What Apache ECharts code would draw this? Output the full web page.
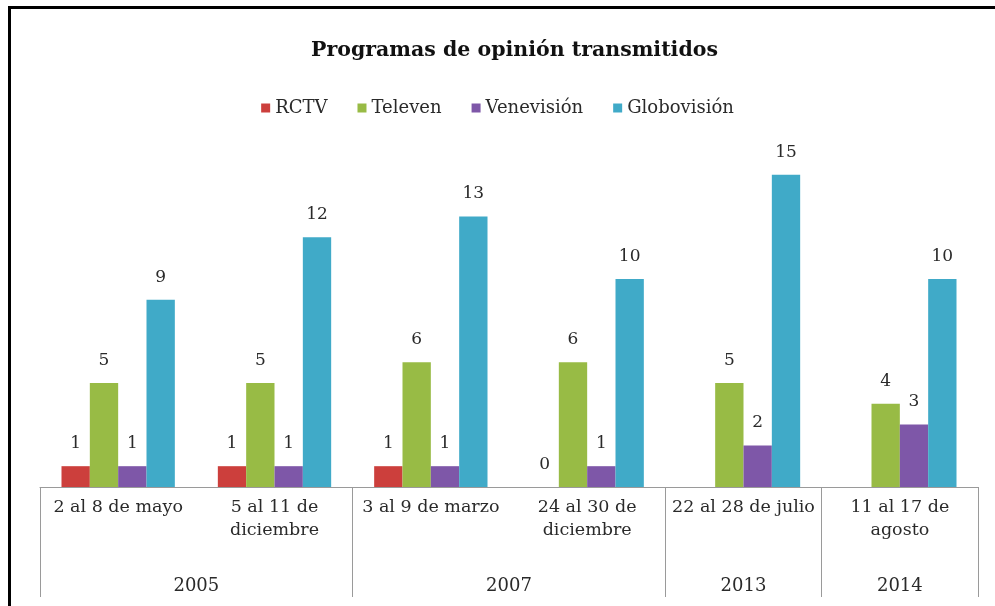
<!DOCTYPE html>
<html>
<head>
<meta charset="utf-8">
<script src="https://cdn.jsdelivr.net/npm/echarts@6/dist/echarts.min.js"></script>
<style>
  html, body { margin: 0; padding: 0; background: #fff; }
  #chart { position: absolute; left: 0; top: 0; width: 995px; height: 606px; }
  #frame {
    position: absolute; left: 8px; top: 6px; right: 0; bottom: 0;
    border-left: 3px solid #000; border-top: 3px solid #000;
    pointer-events: none;
  }
</style>
</head>
<body>
<div id="chart"></div>
<div id="frame"></div>
<script>
// fechas (primer nivel del eje) y años (segundo nivel)
const weeks = ['2 al 8 de mayo', '5 al 11 de\ndiciembre', '3 al 9 de marzo', '24 al 30 de\ndiciembre', '22 al 28 de julio', '11 al 17 de\nagosto']
const years = ['2005', '2007', '2013', '2014']
const yearSpans = [2, 2, 1, 1]

const rctv = [1, 1, 1, 0, null, null]
const televen = [5, 5, 6, 6, 5, 4]
const venevision = [1, 1, 1, 1, 2, 3]
const globovision = [9, 12, 13, 10, 15, 10]

const colors = ['#cc3f3c', '#98bb45', '#7e57a8', '#40aac8']
const font = 'DejaVu Serif'
const textColor = '#2a2a2a'

// eje de años: puntos cada media categoría, etiqueta en el centro de cada grupo
const yearSlots = new Array(weeks.length * 2 + 1).fill('')
const yearBounds = [0]
let pos = 0
years.forEach((y, i) => {
  yearSlots[pos + yearSpans[i]] = y
  pos += yearSpans[i] * 2
  yearBounds.push(pos)
})

const chart = echarts.init(document.getElementById('chart'))

const makeSeries = (name, data, color) => ({
  name,
  type: 'bar',
  data,
  barGap: '0%',
  barCategoryGap: '27.5%',
  itemStyle: { color },
  label: {
    show: true,
    position: 'top',
    distance: 14,
    color: textColor,
    fontFamily: font,
    fontSize: 17
  }
})

chart.setOption({
  animation: false,
  title: {
    text: 'Programas de opinión transmitidos',
    left: 306,
    top: 35,
    textStyle: { fontFamily: font, fontSize: 20.5, fontWeight: 'bold', color: '#111' }
  },
  legend: {
    top: 94,
    left: 'center',
    itemWidth: 9,
    itemHeight: 9,
    itemGap: 30,
    icon: 'rect',
    textStyle: { fontFamily: font, fontSize: 18, color: textColor },
    data: ['RCTV', 'Televen', 'Venevisión', 'Globovisión']
  },
  grid: { left: 40, right: 17, top: 154, bottom: 119, containLabel: false },
  xAxis: [
    {
      type: 'category',
      data: weeks,
      position: 'bottom',
      axisLine: { lineStyle: { color: '#9a9a9a', width: 1 } },
      axisTick: { show: false },
      axisLabel: {
        interval: 0,
        margin: 9,
        lineHeight: 23,
        fontFamily: font,
        fontSize: 17.5,
        color: textColor
      }
    },
    {
      type: 'category',
      data: yearSlots,
      position: 'bottom',
      boundaryGap: false,
      axisLine: { show: false },
      axisTick: {
        show: true,
        inside: false,
        length: 110,
        interval: (i) => yearBounds.includes(i),
        lineStyle: { color: '#9a9a9a', width: 1 }
      },
      axisLabel: {
        interval: 0,
        margin: 88,
        lineHeight: 23,
        fontFamily: font,
        fontSize: 18,
        color: textColor
      }
    }
  ],
  yAxis: {
    type: 'value',
    min: 0,
    max: 16,
    show: false,
    splitLine: { show: false }
  },
  series: [
    makeSeries('RCTV', rctv, colors[0]),
    makeSeries('Televen', televen, colors[1]),
    makeSeries('Venevisión', venevision, colors[2]),
    makeSeries('Globovisión', globovision, colors[3])
  ]
})
</script>
</body>
</html>
